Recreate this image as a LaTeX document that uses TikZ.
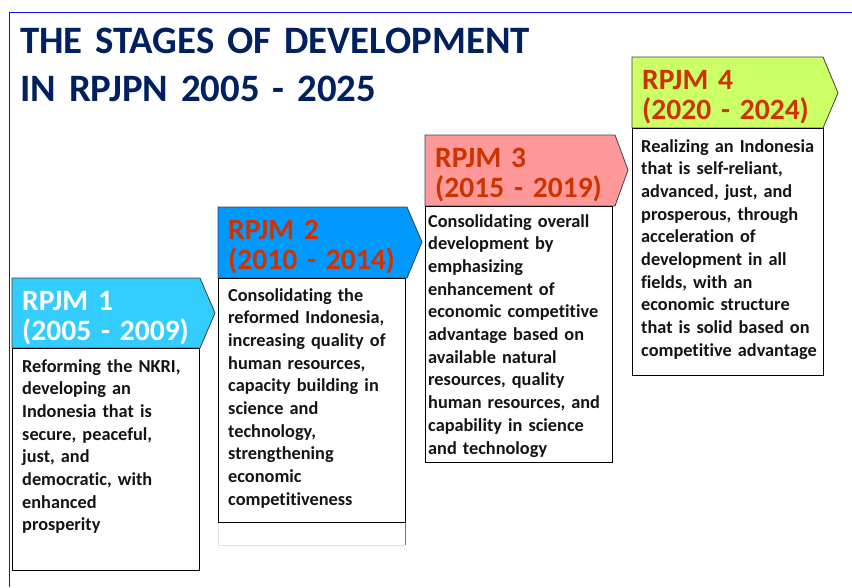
\documentclass[tikz,border=0pt]{standalone}
\usepackage{fontspec}
\setmainfont{Carlito}[Ligatures=NoCommon]
\definecolor{navy}{HTML}{002060}
\definecolor{frameblue}{HTML}{1010F0}
\definecolor{cone}{HTML}{33CCFF}
\definecolor{ctwo}{HTML}{0099FF}
\definecolor{cthree}{HTML}{FF9999}
\definecolor{cfour}{HTML}{CCFF66}
\definecolor{redtxt}{HTML}{CC3300}
\tikzset{
  hdr/.style={draw=black!75, line width=0.8pt},
  bodybox/.style={draw=black, line width=0.8pt, fill=white},
  hdrtext/.style={anchor=base west, inner sep=0pt, text width=190pt, align=left,
    font=\bfseries\fontsize{29.5}{30}\selectfont},
  bodytext/.style={anchor=base west, inner sep=0pt, text width=200pt, align=left,
    font=\bfseries\fontsize{18.3}{22.7}\selectfont, text=black!92},
  titletext/.style={anchor=base west, inner sep=0pt, text width=600pt, align=left,
    font=\bfseries\fontsize{38.8}{48}\selectfont, text=navy},
}
\begin{document}
\begin{tikzpicture}[x=1pt,y=-1pt]
\useasboundingbox (0,0) rectangle (852,587);
\fill[white] (0,0) rectangle (852,587);
% frame
\draw[frameblue, line width=1.5pt] (9.5,587) -- (9.5,12.5) -- (852,12.5);
% title
\node[titletext] (title) at (20,53) {THE STAGES OF DEVELOPMENT\\IN RPJPN 2005 - 2025};

% stage 1
\draw[hdr, fill=cone] (12,278) -- (200,278) -- (215,313) -- (200,348) -- (12,348) -- cycle;
\draw[bodybox] (12,348) rectangle (199,570);
\node[hdrtext, text=white] (h1) at (22,310) {RPJM 1\\(2005 - 2009)};
\node[bodytext] (b1) at (22,372) {Reforming the NKRI,\\developing an\\Indonesia that is\\secure, peaceful,\\just, and\\democratic, with\\enhanced\\prosperity};

% stage 2
\draw[black!55, line width=0.6pt] (405,522) -- (405,545);
\draw[black!12, line width=0.6pt] (405,545) -- (218,545) -- (218,522);
\draw[hdr, fill=ctwo] (218,207) -- (407,207) -- (422,242) -- (407,278) -- (218,278) -- cycle;
\draw[bodybox] (218,278) rectangle (405,522);
\node[hdrtext, text=redtxt] (h2) at (228,239) {RPJM 2\\(2010 - 2014)};
\node[bodytext] (b2) at (228,301) {Consolidating the\\reformed Indonesia,\\increasing quality of\\human resources,\\capacity building in\\science and\\technology,\\strengthening\\economic\\competitiveness};

% stage 3
\draw[hdr, fill=cthree] (425,135) -- (615,135) -- (628,170) -- (615,206) -- (425,206) -- cycle;
\draw[bodybox] (425,206) rectangle (612,462);
\node[hdrtext, text=redtxt] (h3) at (435,167) {RPJM 3\\(2015 - 2019)};
\node[bodytext] (b3) at (428,227) {Consolidating overall\\development by\\emphasizing\\enhancement of\\economic competitive\\advantage based on\\available natural\\resources, quality\\human resources, and\\capability in science\\and technology};

% stage 4
\draw[hdr, fill=cfour] (632,57) -- (823,57) -- (838,93) -- (823,128) -- (632,128) -- cycle;
\draw[bodybox] (632,128) rectangle (823,375);
\node[hdrtext, text=redtxt] (h4) at (642,89) {RPJM 4\\(2020 - 2024)};
\node[bodytext] (b4) at (641,152) {Realizing an Indonesia\\that is self-reliant,\\advanced, just, and\\prosperous, through\\acceleration of\\development in all\\fields, with an\\economic structure\\that is solid based on\\competitive advantage};
\end{tikzpicture}
\end{document}
